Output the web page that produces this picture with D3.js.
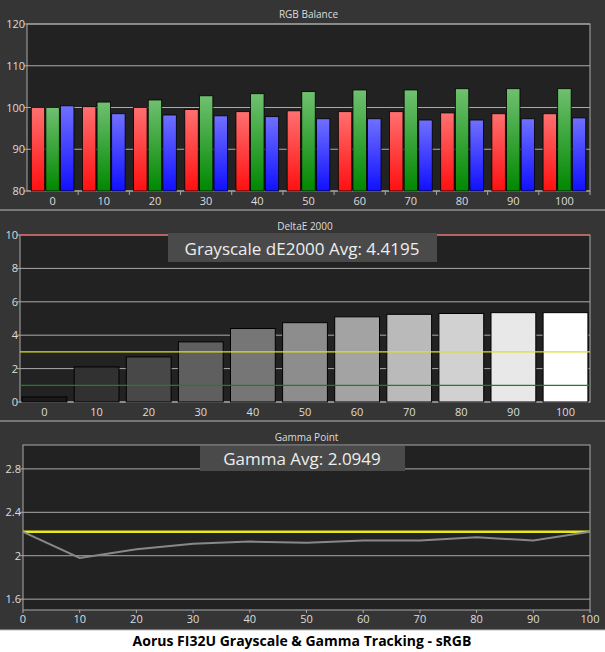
<!DOCTYPE html><html><head><meta charset="utf-8"><script src="https://cdn.jsdelivr.net/npm/d3@7"></script>
<style>body{margin:0;background:#fff}svg{display:block}text{font-family:"Open Sans","DejaVu Sans",sans-serif}</style></head><body><svg id="c" width="605" height="652"></svg>
<script>
const categories=[0,10,20,30,40,50,60,70,80,90,100];
const redVals=[100,100.2,100,99.5,99,99.2,99,99,98.7,98.5,98.5];
const greenVals=[100,101.3,101.8,102.8,103.3,103.8,104.2,104.2,104.5,104.5,104.5];
const blueVals=[100.4,98.5,98.2,98,97.8,97.3,97.3,97,97,97.3,97.5];
const deltaE=[0.3,2.1,2.7,3.6,4.4,4.75,5.1,5.25,5.3,5.35,5.35];
const gammaVals=[2.22,1.98,2.06,2.11,2.13,2.12,2.14,2.14,2.17,2.14,2.22];
const rgbTicks=[80,90,100,110,120];
const deTicks=[0,2,4,6,8,10];
const gammaTicks=[1.6,2,2.4,2.8];
const gammaTarget=2.22;

const svg=d3.select("#c");
const defs=svg.append("defs");
function grad(id,top,bot){const g=defs.append("linearGradient").attr("id",id).attr("x1",0).attr("y1",0).attr("x2",0).attr("y2",1);
g.append("stop").attr("offset","0").attr("stop-color",top);g.append("stop").attr("offset","1").attr("stop-color",bot);}
grad("gr","#ff7070","#ff1010");grad("gg","#70c070","#008800");grad("gb","#7070ff","#1010ff");
svg.append("rect").attr("width",605).attr("height",630).attr("fill","#353535");
[210,421].forEach(y=>svg.append("line").attr("x1",0).attr("x2",605).attr("y1",y).attr("y2",y).attr("stroke","#bbb"));
svg.append("line").attr("x1",0).attr("x2",605).attr("y1",630).attr("y2",630).attr("stroke","#bbb");
const tc="#ddd";
function frame(L,R,T,B,title,ty){
  svg.append("rect").attr("x",L).attr("y",T).attr("width",R-L).attr("height",B-T).attr("fill","#222").attr("stroke","#aaa");
  svg.append("text").attr("x",(L+R)/2).attr("y",ty).attr("text-anchor","middle").attr("fill",tc).attr("font-size",10).text(title);
}
function yAxis(y,L,R,ticks,fmt){
  const g=svg.append("g");
  ticks.forEach(t=>{g.append("line").attr("x1",L).attr("x2",R).attr("y1",y(t)).attr("y2",y(t)).attr("stroke","#aaa");
    g.append("line").attr("x1",L-3).attr("x2",L).attr("y1",y(t)).attr("y2",y(t)).attr("stroke","#aaa");
    g.append("text").attr("x",L-2).attr("y",y(t)+4).attr("text-anchor","end").attr("fill",tc).attr("font-size",11).text(fmt?fmt(t):t);});
}
// Top
{const L=27,R=590,T=24,B=191;frame(L,R,T,B,"RGB Balance",18);
const y=d3.scaleLinear().domain([80,120]).range([B,T]);yAxis(y,L,R,rgbTicks);
const x=d3.scaleBand().domain(categories).range([L,R]).paddingInner(0.12).paddingOuter(0.06);
const xs=d3.scaleBand().domain([0,1,2]).range([0,x.bandwidth()]).padding(0.08);
[[redVals,"gr"],[greenVals,"gg"],[blueVals,"gb"]].forEach(([v,f],i)=>{
 svg.append("g").selectAll("rect").data(v).join("rect").attr("x",(d,j)=>x(categories[j])+xs(i)).attr("width",xs.bandwidth())
 .attr("y",d=>y(d)).attr("height",d=>B-y(d)).attr("fill",`url(#${f})`).attr("stroke","#000").attr("stroke-width",0.8);});
const step=(R-L)/11;
categories.forEach((c,j)=>{svg.append("text").attr("x",x(c)+x.bandwidth()/2).attr("y",B+14).attr("text-anchor","middle").attr("fill",tc).attr("font-size",11).text(c);
 svg.append("line").attr("x1",L+step*(j+1)).attr("x2",L+step*(j+1)).attr("y1",B).attr("y2",B+4).attr("stroke","#aaa");});}
// Middle
{const L=20,R=590,T=235,B=402;frame(L,R,T,B,"DeltaE 2000",230);
const y=d3.scaleLinear().domain([0,10]).range([B,T]);yAxis(y,L,R,deTicks);
const x=d3.scaleBand().domain(categories).range([L,R]).paddingInner(0.14).paddingOuter(0.04);
const col=d3.scaleLinear().domain([0,100]).range(["#1a1a1a","#ffffff"]);
svg.append("g").selectAll("rect").data(deltaE).join("rect").attr("x",(d,j)=>x(categories[j])).attr("width",x.bandwidth())
 .attr("y",d=>y(d)).attr("height",d=>B-y(d)).attr("fill",(d,j)=>col(categories[j])).attr("stroke","#000");
[[10,"#e04040"],[3,"#e0e020"],[1,"#208020"]].forEach(([v,c])=>svg.append("line").attr("x1",L).attr("x2",R).attr("y1",y(v)).attr("y2",y(v)).attr("stroke",c).attr("stroke-width",1.2));
categories.forEach(c=>svg.append("text").attr("x",x(c)+x.bandwidth()/2).attr("y",B+14).attr("text-anchor","middle").attr("fill",tc).attr("font-size",11).text(c));
svg.append("rect").attr("x",168).attr("y",233).attr("width",269).attr("height",29).attr("fill","#4a4a4a");
svg.append("text").attr("x",302).attr("y",255).attr("text-anchor","middle").attr("fill","#eee").attr("font-size",17).text("Grayscale dE2000 Avg: 4.4195");}
// Bottom
{const L=23,R=590,T=445,B=610;frame(L,R,T,B,"Gamma Point",441);
const y=d3.scaleLinear().domain([1.5,3.02]).range([B,T]);yAxis(y,L,R,gammaTicks);
const x=d3.scaleLinear().domain([0,100]).range([L,R]);
svg.append("line").attr("x1",L).attr("x2",R).attr("y1",y(gammaTarget)).attr("y2",y(gammaTarget)).attr("stroke","#e8e820").attr("stroke-width",2.5);
svg.append("path").datum(gammaVals).attr("d",d3.line().x((d,j)=>x(categories[j])).y(d=>y(d))).attr("fill","none").attr("stroke","#888").attr("stroke-width",2);
categories.forEach(c=>{svg.append("text").attr("x",x(c)).attr("y",B+13).attr("text-anchor","middle").attr("fill",tc).attr("font-size",11).text(c);
 svg.append("line").attr("x1",x(c)).attr("x2",x(c)).attr("y1",B).attr("y2",B+3).attr("stroke","#aaa");});
svg.append("rect").attr("x",200).attr("y",446).attr("width",205).attr("height",25).attr("fill","#4a4a4a");
svg.append("text").attr("x",302).attr("y",465).attr("text-anchor","middle").attr("fill","#eee").attr("font-size",17).text("Gamma Avg: 2.0949");}
svg.append("text").attr("x",302).attr("y",646).attr("text-anchor","middle").attr("fill","#000").attr("font-weight","bold").attr("font-size",14).text("Aorus FI32U Grayscale & Gamma Tracking - sRGB");
</script></body></html>
